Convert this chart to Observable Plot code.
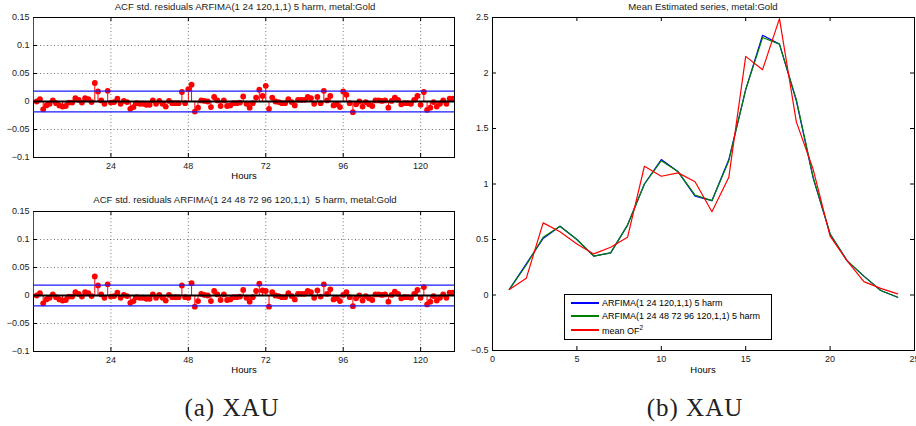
<!DOCTYPE html>
<html><head><meta charset="utf-8">
<script src="https://cdn.jsdelivr.net/npm/d3@7"></script>
<script src="https://cdn.jsdelivr.net/npm/@observablehq/plot@0.6"></script>
<style>
html,body{margin:0;padding:0;background:#fff;overflow:hidden}
#root{position:relative;width:916px;height:426px;font-family:"Liberation Sans",Arial,sans-serif;color:#000;background:#fff}
.panel{position:absolute}
.t{position:absolute;white-space:pre;transform:translate(-50%,-50%);line-height:1}
.title{font-size:9.6px;color:#222}
.lab{font-size:9.5px}
.cap{font-family:"Liberation Serif","DejaVu Serif",serif;font-size:25px;letter-spacing:1px;color:#222}
#legend{position:absolute;left:564px;top:294px;width:208px;height:46px;border:1.3px solid #000;background:#fff;box-sizing:border-box;font-size:9px}
.row{position:absolute;left:0;height:0}
.sw{position:absolute;left:6px;top:-1px;width:28px;height:2px}
.lt{position:absolute;left:37px;white-space:pre;transform:translateY(-50%);line-height:1}
</style></head>
<body><div id="root">
<div class="panel" id="pA1" style="left:0;top:0"></div>
<div class="panel" id="pA2" style="left:0;top:194px"></div>
<div class="panel" id="pB" style="left:458px;top:0"></div>
<div class="t title" style="left:245px;top:7px">ACF std. residuals ARFIMA(1 24 120,1,1) 5 harm, metal:Gold</div>
<div class="t title" style="left:245px;top:200px">ACF std. residuals ARFIMA(1 24 48 72 96 120,1,1)  5 harm, metal:Gold</div>
<div class="t title" style="left:703px;top:7px">Mean Estimated series, metal:Gold</div>
<div class="t lab" style="left:244px;top:176px">Hours</div>
<div class="t lab" style="left:244px;top:370px">Hours</div>
<div class="t lab" style="left:703px;top:370px">Hours</div>
<div class="t cap" style="left:232px;top:407px">(a) XAU</div>
<div class="t cap" style="left:695px;top:407px">(b) XAU</div>
<div id="legend"></div>
</div>
<script>
// ---------- data ----------
const acfXTicks = [24, 48, 72, 96, 120];
const acfYTicks = [-0.1, -0.05, 0, 0.05, 0.1, 0.15];
const confBound = 0.0187;
// ACF of std. residuals, lags 1..130 (lag 0 = 1)
const acfModelA = [
 0.000, 0.004,-0.014,-0.007,-0.004, 0.002,-0.003,-0.007,-0.009,-0.008,
-0.002,-0.002, 0.006, 0.003,-0.002, 0.006, 0.004,-0.001, 0.033, 0.018,
 0.002,-0.004, 0.019,-0.002,-0.001, 0.005,-0.004, 0.001,-0.001,-0.013,
-0.010,-0.003,-0.004,-0.004,-0.006,-0.006, 0.002,-0.004, 0.001,-0.004,
-0.009, 0.001,-0.003,-0.003,-0.003, 0.017,-0.003, 0.022, 0.030,-0.018,
-0.011, 0.002, 0.001, 0.000,-0.010, 0.008, 0.002,-0.008, 0.002,-0.008,
-0.007,-0.003,-0.003,-0.002, 0.009,-0.004,-0.011,-0.003, 0.007, 0.021,
 0.010, 0.028,-0.013, 0.007, 0.000,-0.001,-0.003,-0.003, 0.004,-0.001,
-0.007, 0.003, 0.003, 0.003, 0.008, 0.006,-0.004, 0.008,-0.003, 0.019,
 0.002, 0.010,-0.007,-0.005,-0.010, 0.018, 0.012,-0.003,-0.019,-0.005,
 0.000,-0.009,-0.001,-0.005,-0.008, 0.002, 0.002, 0.001, 0.002,-0.011,
 0.001, 0.007, 0.003,-0.005,-0.003,-0.003,-0.004, 0.003, 0.010,-0.006,
 0.017,-0.015,-0.011,-0.001,-0.009,-0.004, 0.002,-0.004, 0.005, 0.005
];
const acfModelB = [
 0.000, 0.004,-0.014,-0.007,-0.004, 0.002,-0.003,-0.007,-0.009,-0.008,
-0.002,-0.002, 0.006, 0.003,-0.002, 0.006, 0.004,-0.001, 0.034, 0.018,
 0.002,-0.004, 0.020,-0.002,-0.001, 0.005,-0.004, 0.001,-0.001,-0.013,
-0.010,-0.003,-0.004,-0.004,-0.006,-0.006, 0.002,-0.004, 0.001,-0.004,
-0.009, 0.001,-0.003,-0.003,-0.003, 0.018,-0.003,-0.004, 0.022,-0.020,
-0.010, 0.003, 0.001, 0.000,-0.010, 0.008, 0.002,-0.008, 0.002,-0.008,
-0.007,-0.003,-0.003,-0.002, 0.010,-0.004,-0.011,-0.003, 0.008, 0.021,
 0.009, 0.008,-0.020, 0.006, 0.000,-0.001,-0.003,-0.003, 0.004,-0.001,
-0.007, 0.003, 0.003, 0.003, 0.008, 0.006,-0.004, 0.009,-0.002, 0.020,
 0.003, 0.011,-0.007,-0.005,-0.010, 0.001, 0.006,-0.003,-0.019,-0.005,
 0.000,-0.009,-0.001,-0.005,-0.008, 0.002, 0.002, 0.001, 0.002,-0.011,
 0.001, 0.007, 0.003,-0.005,-0.003,-0.003,-0.004, 0.003, 0.010,-0.004,
 0.015,-0.016,-0.011,-0.001,-0.009,-0.004, 0.002,-0.004, 0.005, 0.005
];
const hours = [1,2,3,4,5,6,7,8,9,10,11,12,13,14,15,16,17,18,19,20,21,22,23,24];
const seriesA = [0.05,0.28,0.51,0.62,0.50,0.35,0.38,0.63,1.00,1.22,1.11,0.89,0.85,1.22,1.85,2.34,2.26,1.75,1.05,0.55,0.31,0.17,0.04,-0.02];
const seriesB = [0.05,0.27,0.52,0.62,0.50,0.35,0.38,0.63,1.00,1.21,1.11,0.90,0.85,1.21,1.85,2.32,2.26,1.76,1.06,0.55,0.31,0.17,0.04,-0.02];
const meanOF2 = [0.05,0.15,0.65,0.57,0.46,0.37,0.43,0.52,1.16,1.07,1.10,1.02,0.75,1.06,2.15,2.03,2.49,1.56,1.13,0.53,0.31,0.12,0.06,0.01];
const bXTicks = [0, 5, 10, 15, 20, 25];
const bYTicks = [-0.5, 0, 0.5, 1, 1.5, 2, 2.5];
const legendLabels = ["ARFIMA(1 24 120,1,1) 5 harm", "ARFIMA(1 24 48 72 96 120,1,1) 5 harm", "mean OF<sup style='font-size:6.5px'>2</sup>"];
const legendColors = ["#0000ff", "#007f00", "#ff0000"];

// ---------- helpers ----------
const fmt = d => d === 0 ? "0" : String(d).replace("-", "\u2212");
const baseStyle = {fontFamily: '"Liberation Sans", Arial, sans-serif', fontSize: "9px", background: "white", overflow: "visible", color: "#222"};

function acfPanel(vals) {
  const W = 458, H = 180, ml = 33, mr = 4, mt = 17, mb = 23;
  const fw = W - ml - mr, fh = H - mt - mb;
  const data = [{lag: 0, v: 1}, ...vals.map((v, i) => ({lag: i + 1, v}))];
  const grid = {stroke: "#555", strokeOpacity: 1, strokeDasharray: "1,2.5", strokeWidth: 0.8};
  return Plot.plot({
    width: W, height: H, marginLeft: ml, marginRight: mr, marginTop: mt, marginBottom: mb,
    style: baseStyle,
    x: {domain: [0, 130.5]},
    y: {domain: [-0.1, 0.15]},
    marks: [
      Plot.gridX(acfXTicks, grid),
      Plot.gridY(acfYTicks.filter(d => d > -0.1 && d < 0.15), grid),
      Plot.frame({stroke: "black"}),
      Plot.ruleX(data, {x: "lag", y1: 0, y2: "v", stroke: "red", strokeWidth: 1, clip: true}),
      Plot.dot(data.filter(d => d.lag > 0), {x: "lag", y: "v", r: 2.9, fill: "red", stroke: "none", clip: true}),
      Plot.ruleY([0], {stroke: "black", strokeWidth: 2}),
      Plot.ruleY([confBound, -confBound], {stroke: "#1a1aff", strokeWidth: 1.3}),
      Plot.tickX(acfXTicks, {x: d => d, insetTop: fh - 4, stroke: "black"}),
      Plot.tickX(acfXTicks, {x: d => d, insetBottom: fh - 4, stroke: "black"}),
      Plot.tickY(acfYTicks, {y: d => d, insetRight: fw - 4, stroke: "black"}),
      Plot.tickY(acfYTicks, {y: d => d, insetLeft: fw - 4, stroke: "black"}),
      Plot.axisX(acfXTicks, {tickSize: 0, tickPadding: 5, label: null}),
      Plot.axisY(acfYTicks, {tickSize: 0, tickPadding: 4, tickFormat: fmt, label: null})
    ]
  });
}

function seriesPanel() {
  const W = 458, H = 374, ml = 34, mr = 2, mt = 17, mb = 24;
  const fw = W - ml - mr, fh = H - mt - mb;
  const rows = (vals, s) => hours.map((h, i) => ({h, v: vals[i], s}));
  return Plot.plot({
    width: W, height: H, marginLeft: ml, marginRight: mr, marginTop: mt, marginBottom: mb,
    style: baseStyle,
    x: {domain: [0, 25]},
    y: {domain: [-0.5, 2.5]},
    marks: [
      Plot.frame({stroke: "black"}),
      Plot.line(rows(seriesA, "a"), {x: "h", y: "v", stroke: legendColors[0], strokeWidth: 1.2}),
      Plot.line(rows(seriesB, "b"), {x: "h", y: "v", stroke: legendColors[1], strokeWidth: 1.2}),
      Plot.line(rows(meanOF2, "c"), {x: "h", y: "v", stroke: legendColors[2], strokeWidth: 1.2}),
      Plot.tickX(bXTicks, {x: d => d, insetTop: fh - 4, stroke: "black"}),
      Plot.tickX(bXTicks, {x: d => d, insetBottom: fh - 4, stroke: "black"}),
      Plot.tickY(bYTicks, {y: d => d, insetRight: fw - 4, stroke: "black"}),
      Plot.tickY(bYTicks, {y: d => d, insetLeft: fw - 4, stroke: "black"}),
      Plot.axisX(bXTicks, {tickSize: 0, tickPadding: 5, label: null}),
      Plot.axisY(bYTicks, {tickSize: 0, tickPadding: 4, tickFormat: fmt, label: null})
    ]
  });
}

document.getElementById("pA1").appendChild(acfPanel(acfModelA));
document.getElementById("pA2").appendChild(acfPanel(acfModelB));
document.getElementById("pB").appendChild(seriesPanel());

const lg = document.getElementById("legend");
const ys = [8, 21, 35];
legendLabels.forEach((t, i) => {
  const r = document.createElement("div");
  r.className = "row"; r.style.top = ys[i] + "px";
  r.innerHTML = `<div class="sw" style="background:${legendColors[i]}"></div><div class="lt">${t}</div>`;
  lg.appendChild(r);
});
</script>
</body></html>
